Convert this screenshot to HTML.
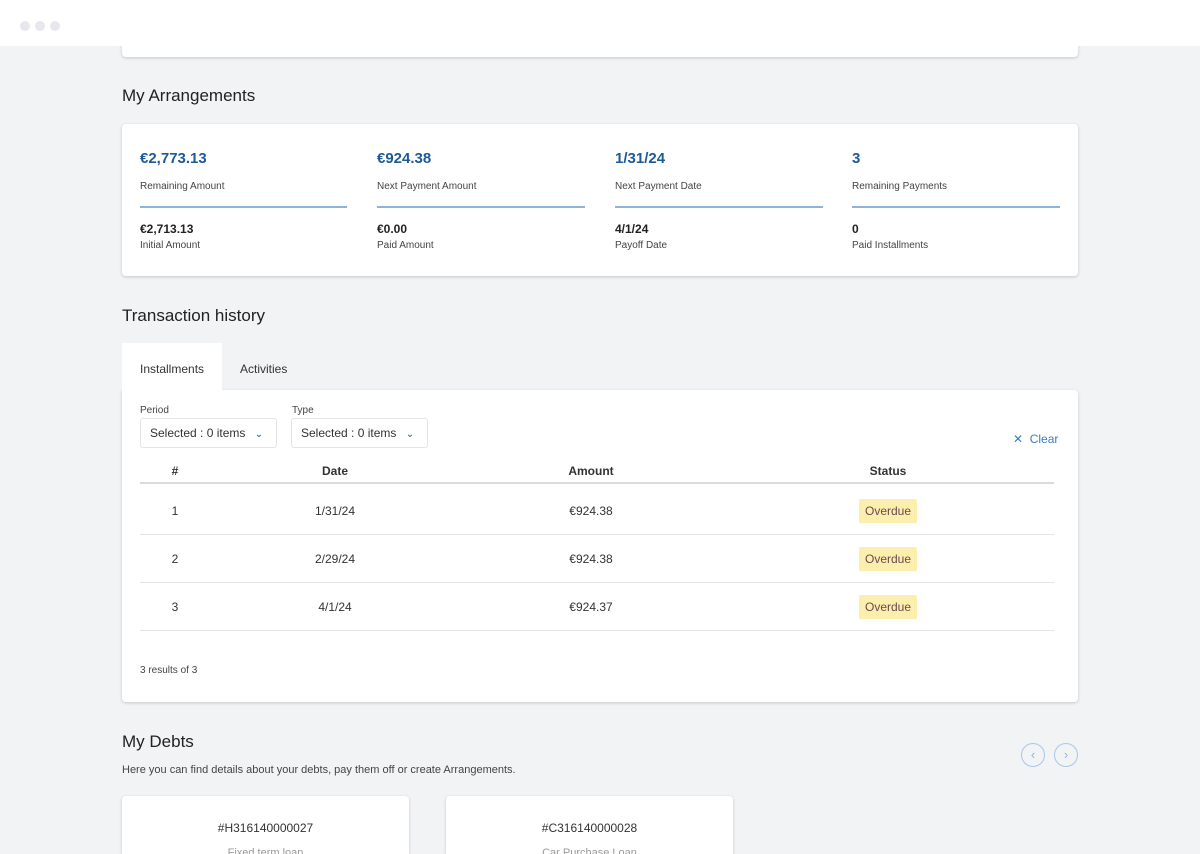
<!DOCTYPE html>
<html><head><meta charset="utf-8"><style>
*{box-sizing:border-box;margin:0;padding:0}
html,body{width:1200px;height:854px;overflow:hidden}
body{background:#f2f3f5;font-family:"Liberation Sans",sans-serif;color:#222;position:relative}
.a{position:absolute}
.card{position:absolute;background:#fff;border-radius:4px;box-shadow:0 1px 3px rgba(0,0,0,.18)}
.h{font-size:17px;color:#222}
.big{font-size:15px;font-weight:bold;color:#1d5a96}
.lbl{font-size:10px;color:#444}
.sm{font-size:12px;font-weight:bold;color:#222}
.line{height:2px;background:#8fb3d9;width:208px}
.c{text-align:center;transform:translateX(-50%);font-size:12px;color:#333}
.sel{position:absolute;border:1px solid #e2e4e8;border-radius:3px;height:30px;font-size:12px;color:#333;padding:7px 9px;background:#fff}
.badge{background:#fbefad;color:#6a4a4a;padding:5px 6px;border-radius:2px;font-size:12px}
.rowline{position:absolute;left:140px;width:914px;height:1px;background:#e3e4e6}
.circ{position:absolute;width:24px;height:24px;border:1px solid #a9c6e8;border-radius:50%;color:#8fb3d9;font-size:13px;text-align:center;line-height:21px}
</style></head><body>
<div class="card" style="left:122px;top:30px;width:956px;height:27px;border-radius:0 0 4px 4px"></div>
<div class="a" style="left:0;top:0;width:1200px;height:46px;background:#fff;z-index:2"></div>
<div class="a" style="left:20px;top:18px;z-index:3">
<span style="display:inline-block;width:10px;height:10px;border-radius:50%;background:#e6e8ee;margin-right:5px"></span><span style="display:inline-block;width:10px;height:10px;border-radius:50%;background:#e6e8ee;margin-right:5px"></span><span style="display:inline-block;width:10px;height:10px;border-radius:50%;background:#e6e8ee"></span></div>

<div class="a h" style="left:122px;top:86px">My Arrangements</div>
<div class="card" style="left:122px;top:124px;width:956px;height:152px">
 <div class="a" style="left:18px;top:26px"><div class="big">€2,773.13</div><div class="lbl" style="margin-top:14px">Remaining Amount</div><div class="line" style="margin-top:14px;width:207px"></div><div class="sm" style="margin-top:14px">€2,713.13</div><div class="lbl" style="margin-top:4px">Initial Amount</div></div>
 <div class="a" style="left:255px;top:26px"><div class="big">€924.38</div><div class="lbl" style="margin-top:14px">Next Payment Amount</div><div class="line" style="margin-top:14px"></div><div class="sm" style="margin-top:14px">€0.00</div><div class="lbl" style="margin-top:4px">Paid Amount</div></div>
 <div class="a" style="left:493px;top:26px"><div class="big">1/31/24</div><div class="lbl" style="margin-top:14px">Next Payment Date</div><div class="line" style="margin-top:14px"></div><div class="sm" style="margin-top:14px">4/1/24</div><div class="lbl" style="margin-top:4px">Payoff Date</div></div>
 <div class="a" style="left:730px;top:26px"><div class="big">3</div><div class="lbl" style="margin-top:14px">Remaining Payments</div><div class="line" style="margin-top:14px"></div><div class="sm" style="margin-top:14px">0</div><div class="lbl" style="margin-top:4px">Paid Installments</div></div>
</div>

<div class="a h" style="left:122px;top:306px">Transaction history</div>
<div class="a" style="left:122px;top:343px;width:100px;height:48px;background:#fff;font-size:12px;padding:19px 0 0 18px;color:#333">Installments</div>
<div class="a" style="left:240px;top:362px;font-size:12px;color:#333">Activities</div>
<div class="card" style="left:122px;top:390px;width:956px;height:312px;border-radius:0 4px 4px 4px"></div>
<div class="a" style="left:122px;top:385px;width:100px;height:8px;background:#fff"></div>
<div class="a lbl" style="left:140px;top:405px">Period</div>
<div class="sel" style="left:140px;top:418px;width:137px">Selected : 0 items <span style="color:#1d5a96;font-size:10px;margin-left:6px">⌄</span></div>
<div class="a lbl" style="left:292px;top:405px">Type</div>
<div class="sel" style="left:291px;top:418px;width:137px">Selected : 0 items <span style="color:#1d5a96;font-size:10px;margin-left:6px">⌄</span></div>
<div class="a" style="left:1013px;top:432px;font-size:12px;color:#3a7cc4">✕&nbsp; Clear</div>

<div class="a c" style="left:175px;top:464px;font-weight:bold">#</div>
<div class="a c" style="left:335px;top:464px;font-weight:bold">Date</div>
<div class="a c" style="left:591px;top:464px;font-weight:bold">Amount</div>
<div class="a c" style="left:888px;top:464px;font-weight:bold">Status</div>
<div class="rowline" style="top:482px;height:2px;background:#d9dbde"></div>

<div class="a c" style="left:175px;top:504px">1</div>
<div class="a c" style="left:335px;top:504px">1/31/24</div>
<div class="a c" style="left:591px;top:504px">€924.38</div>
<div class="a c" style="left:888px;top:504px"><span class="badge">Overdue</span></div>
<div class="rowline" style="top:534px"></div>
<div class="a c" style="left:175px;top:552px">2</div>
<div class="a c" style="left:335px;top:552px">2/29/24</div>
<div class="a c" style="left:591px;top:552px">€924.38</div>
<div class="a c" style="left:888px;top:552px"><span class="badge">Overdue</span></div>
<div class="rowline" style="top:582px"></div>
<div class="a c" style="left:175px;top:600px">3</div>
<div class="a c" style="left:335px;top:600px">4/1/24</div>
<div class="a c" style="left:591px;top:600px">€924.37</div>
<div class="a c" style="left:888px;top:600px"><span class="badge">Overdue</span></div>
<div class="rowline" style="top:630px"></div>
<div class="a lbl" style="left:140px;top:665px">3 results of 3</div>

<div class="a h" style="left:122px;top:732px">My Debts</div>
<div class="a" style="left:122px;top:764px;font-size:11px;color:#444">Here you can find details about your debts, pay them off or create Arrangements.</div>
<div class="circ" style="left:1021px;top:743px">‹</div>
<div class="circ" style="left:1054px;top:743px">›</div>
<div class="card" style="left:122px;top:796px;width:287px;height:58px;border-radius:4px 4px 0 0"><div style="text-align:center;margin-top:25px;font-size:12px;color:#333">#H316140000027</div><div style="text-align:center;margin-top:12px;font-size:11px;color:#999">Fixed term loan</div></div>
<div class="card" style="left:446px;top:796px;width:287px;height:58px;border-radius:4px 4px 0 0"><div style="text-align:center;margin-top:25px;font-size:12px;color:#333">#C316140000028</div><div style="text-align:center;margin-top:12px;font-size:11px;color:#999">Car Purchase Loan</div></div>
</body></html>
